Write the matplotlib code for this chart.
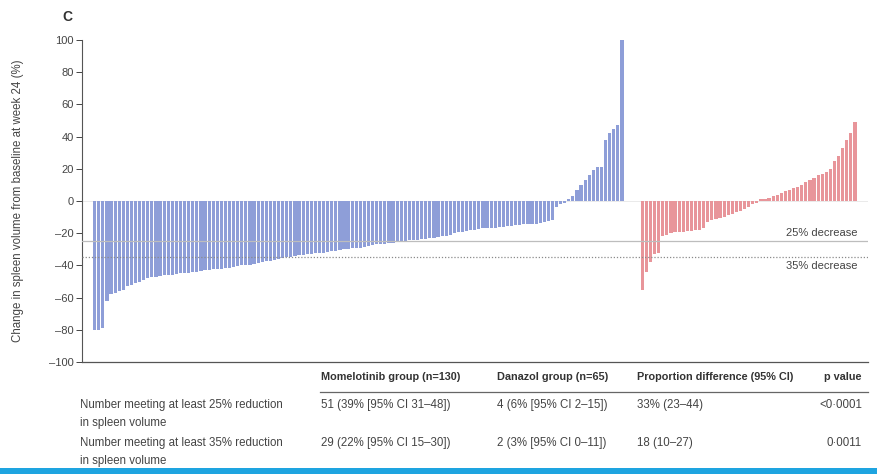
import matplotlib as mpl
mpl.use('Agg')
import matplotlib.pyplot as plt
import numpy as np

plt.rcParams['font.family'] = ['Liberation Sans', 'DejaVu Sans']

# waterfall data: % change in spleen volume at week 24, sorted per group
momelotinib = [-80, -80, -79, -62, -58, -57, -56, -55, -53, -52,
               -51, -50, -49, -48, -47, -47, -46.5, -46, -46, -46,
               -45.5, -45, -45, -44.5, -44, -44, -43.5, -43, -43, -42.5,
               -42, -42, -41.5, -41.5, -41, -40.5, -40, -40, -39.5, -39,
               -38.5, -38, -37, -37, -36.5, -36, -35.5, -35, -34.5, -34,
               -33.5, -33.5, -33, -33, -32.5, -32, -32, -31.5, -31, -31,
               -30.5, -30, -30, -29.5, -29, -29, -28.5, -28, -27.5, -27,
               -27, -26.5, -26, -26, -25.5, -25, -25, -24.5, -24, -24,
               -23.5, -23.5, -23, -23, -22.5, -22, -21.5, -21, -20, -19.5,
               -19, -18.5, -18, -18, -17.5, -17, -17, -16.5, -16.5, -16,
               -16, -15.5, -15.5, -15, -15, -14.5, -14.5, -14, -14, -13.5,
               -13, -12.5, -12, -4, -2, -1, 1, 3, 7, 10,
               13, 16, 19, 21, 21, 38, 42, 45, 47, 100]
danazol = [-55, -44, -38, -33, -32, -22, -21, -20, -19.5, -19,
           -19, -18.5, -18.5, -18, -18, -17, -13, -12, -11, -10.5,
           -10, -9, -8, -7, -6, -5, -3.5, -2, -1, 1,
           1.5, 2, 3, 4, 5, 6, 7, 8, 9, 10,
           12, 13, 14, 16, 16.5, 18, 20, 25, 28, 33,
           38, 42, 49]

yticks = [100, 80, 60, 40, 20, 0, -20, -40, -60, -80, -100]
ylabel = 'Change in spleen volume from baseline at week 24 (%)'

thresholds = [-25, -35]
threshold_labels = ['25% decrease', '35% decrease']

col_headers = ['Momelotinib group (n=130)', 'Danazol group (n=65)',
               'Proportion difference (95% CI)', 'p value']
row_labels = ['Number meeting at least 25% reduction\nin spleen volume',
              'Number meeting at least 35% reduction\nin spleen volume']
cells = [['51 (39% [95% CI 31–48])', '4 (6% [95% CI 2–15])', '33% (23–44)', '<0·0001'],
         ['29 (22% [95% CI 15–30])', '2 (3% [95% CI 0–11])', '18 (10–27)', '0·0011']]

blue = '#8e9ed8'
red = '#e8959a'
txt = '#444444'
fs = 8.3

fig = plt.figure(figsize=(8.78, 4.74), dpi=100)
ax = fig.add_axes([82/878, 1 - 362/474, (868-82)/878, 322/474])

gap = 4
x_m = np.arange(len(momelotinib))
x_d = np.arange(len(danazol)) + len(momelotinib) + gap
ax.bar(x_m, momelotinib, width=0.78, color=blue, linewidth=0)
ax.bar(x_d, danazol, width=0.78, color=red, linewidth=0)

ax.axhline(0, color='#e6e6e6', lw=0.6, zorder=0)
ax.axhline(thresholds[0], color='#bdbdbd', lw=0.9, zorder=3)
ax.axhline(thresholds[1], color='#8a8a8a', lw=0.9, ls=(0, (1, 1.5)), zorder=3)
ax.text(x_d[-1] + 0.6, thresholds[0] + 2, threshold_labels[0], ha='right', va='bottom',
        fontsize=fs - 0.3, color=txt)
ax.text(x_d[-1] + 0.6, thresholds[1] - 2, threshold_labels[1], ha='right', va='top',
        fontsize=fs - 0.3, color=txt)

ax.set_xlim(-3.1, x_d[-1] + 3.2)
ax.set_ylim(-100, 100)
ax.set_yticks(yticks)
ax.set_yticklabels([str(t).replace('-', '–') for t in yticks])
ax.tick_params(axis='y', labelsize=fs - 0.3, colors=txt, length=4, width=0.7, pad=2)
ax.set_xticks([])
for s in ['top', 'right']:
    ax.spines[s].set_visible(False)
ax.spines['left'].set_color('#555555')
ax.spines['bottom'].set_color('#555555')
ax.spines['left'].set_linewidth(0.8)
ax.spines['bottom'].set_linewidth(0.9)
ax.set_ylabel(ylabel, fontsize=fs, color=txt)
ax.yaxis.set_label_coords(-(82 - 24)/786, 0.5)

fig.text(67/878, 1 - 17/474, 'C', fontsize=10, fontweight='bold', color='#333333',
         ha='center', va='center')

# table under the plot
col_x = [321, 497, 637, 862]
head_y = 377
for i, h in enumerate(col_headers):
    ha = 'right' if i == 3 else 'left'
    fig.text(col_x[i]/878, 1 - head_y/474, h, fontsize=fs - 0.5, fontweight='bold',
             color='#333333', ha=ha, va='center')
fig.add_artist(plt.Line2D([320/878, 868/878], [1 - 392/474, 1 - 392/474],
                          color='#666666', lw=0.9))

row_y = [405, 443]
for r in range(len(row_labels)):
    fig.text(80/878, 1 - (row_y[r] - 6)/474, row_labels[r], fontsize=fs, color=txt,
             ha='left', va='top', linespacing=1.65)
    for i, c in enumerate(cells[r]):
        ha = 'right' if i == 3 else 'left'
        fig.text(col_x[i]/878, 1 - row_y[r]/474, c, fontsize=fs, color=txt,
                 ha=ha, va='center')

# blue band at the bottom edge
fig.add_artist(plt.Rectangle((0, 0), 1, 6/474, transform=fig.transFigure,
                             color='#1ea4e0', lw=0))

fig.savefig('out.png', dpi=100)
